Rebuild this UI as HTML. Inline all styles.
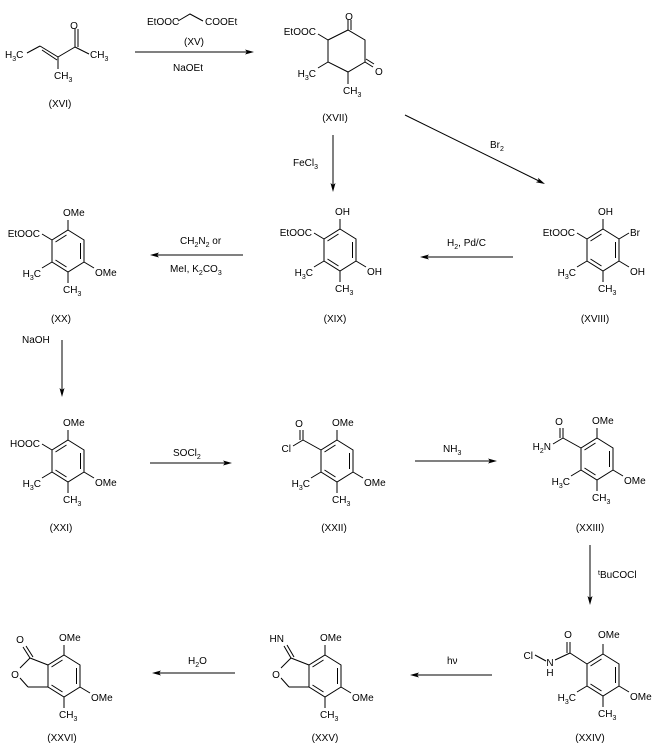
<!DOCTYPE html>
<html><head><meta charset="utf-8"><style>
html,body{margin:0;padding:0;background:#fff;}
svg{display:block;}
text{font-family:"Liberation Sans",Arial,sans-serif;font-size:10px;fill:#000;}
.s{font-size:7px;}
</style></head><body>
<svg width="660" height="745" viewBox="0 0 660 745" xmlns="http://www.w3.org/2000/svg">
<defs>
<g id="r" stroke="#000" stroke-width="1" fill="none">
<polygon points="0,-21 16,-11 16,11 0,21 -16,11 -16,-11"/>
<line x1="-12.5" y1="-9" x2="-1.5" y2="-16"/>
<line x1="12.5" y1="-8" x2="12.5" y2="8"/>
<line x1="-12.5" y1="9" x2="-1.5" y2="16"/>
</g>
<g id="bT" stroke="#000"><line x1="0" y1="-21" x2="0" y2="-31"/></g>
<g id="bB" stroke="#000"><line x1="0" y1="21" x2="0" y2="32"/></g>
<g id="bUL" stroke="#000"><line x1="-16" y1="-11" x2="-26" y2="-17"/></g>
<g id="bLL" stroke="#000"><line x1="-16" y1="11" x2="-26" y2="17"/></g>
<g id="bLR" stroke="#000"><line x1="16" y1="11" x2="26" y2="17"/></g>
<g id="bUR" stroke="#000"><line x1="16" y1="-11" x2="26" y2="-17"/></g>
<g id="std">
<use href="#r"/><use href="#bT"/><use href="#bB"/><use href="#bLL"/><use href="#bLR"/>
<text x="-5" y="42">CH<tspan class="s" dy="3">3</tspan></text>
<text x="-27" y="26" text-anchor="end">H<tspan class="s" dy="3">3</tspan><tspan dy="-3">C</tspan></text>
</g>
<g id="amide" stroke="#000" fill="none">
<line x1="-16" y1="-11" x2="-34" y2="-21"/>
<line x1="-34" y1="-21" x2="-34" y2="-31"/>
<line x1="-37" y1="-21" x2="-37" y2="-31"/>
</g>
<g id="lac" stroke="#000" fill="none">
<use href="#r"/><use href="#bT"/><use href="#bB"/><use href="#bLR"/>
<line x1="-16" y1="-11" x2="-34" y2="-18"/>
<line x1="-34" y1="-18" x2="-44" y2="-8"/>
<line x1="-44" y1="2" x2="-36" y2="11"/>
<line x1="-36" y1="11" x2="-16" y2="11"/>
</g>
<g id="ah"><polygon points="0,0 -9,-2.5 -7,0 -9,2.5" fill="#000"/></g>
</defs>

<!-- XVI -->
<g stroke="#000" fill="none">
<line x1="27" y1="53" x2="40" y2="46"/>
<line x1="40" y1="46" x2="58" y2="57"/>
<line x1="42" y1="50" x2="57" y2="60"/>
<line x1="58" y1="57" x2="75" y2="47"/>
<line x1="75" y1="47" x2="75" y2="29"/>
<line x1="78" y1="47" x2="78" y2="29"/>
<line x1="75" y1="47" x2="89" y2="54"/>
<line x1="58" y1="57" x2="58" y2="69"/>
</g>
<text x="74" y="29" text-anchor="middle">O</text>
<text x="5" y="58">H<tspan class="s" dy="3">3</tspan><tspan dy="-3">C</tspan></text>
<text x="90" y="58">CH<tspan class="s" dy="3">3</tspan></text>
<text x="54" y="79">CH<tspan class="s" dy="3">3</tspan></text>
<text x="60" y="107" text-anchor="middle">(XVI)</text>

<!-- arrow 1 -->
<line x1="135" y1="52" x2="250" y2="52" stroke="#000"/>
<use href="#ah" transform="translate(254,52)"/>
<text x="147" y="25">EtOOC</text>
<path d="M178,21 L190,14 L203,21" stroke="#000" fill="none"/>
<text x="205" y="25">COOEt</text>
<text x="194" y="45" text-anchor="middle">(XV)</text>
<text x="173" y="71">NaOEt</text>

<!-- XVII -->
<g stroke="#000" fill="none">
<polygon points="328,40 348,30 365,40 365,62 348,72 328,62"/>
<line x1="348" y1="30" x2="348" y2="20"/>
<line x1="351" y1="30" x2="351" y2="20"/>
<line x1="365" y1="62" x2="373" y2="67"/>
<line x1="366" y1="59" x2="374" y2="64"/>
<line x1="328" y1="40" x2="318" y2="34"/>
<line x1="328" y1="62" x2="318" y2="68"/>
<line x1="348" y1="72" x2="348" y2="84"/>
</g>
<text x="349" y="20" text-anchor="middle">O</text>
<text x="375" y="75">O</text>
<text x="316" y="35" text-anchor="end">EtOOC</text>
<text x="316" y="77" text-anchor="end">H<tspan class="s" dy="3">3</tspan><tspan dy="-3">C</tspan></text>
<text x="343" y="94">CH<tspan class="s" dy="3">3</tspan></text>
<text x="335" y="121" text-anchor="middle">(XVII)</text>

<!-- arrows row1->2 -->
<line x1="333" y1="135" x2="333" y2="188" stroke="#000"/>
<use href="#ah" transform="translate(333,192) rotate(90)"/>
<text x="293" y="166">FeCl<tspan class="s" dy="3">3</tspan></text>
<line x1="405" y1="115" x2="541" y2="182" stroke="#000"/>
<use href="#ah" transform="translate(545,184) rotate(26.2)"/>
<text x="490" y="148">Br<tspan class="s" dy="3">2</tspan></text>

<!-- XX -->
<g transform="translate(68,251)">
<use href="#std"/><use href="#bUL"/>
<text x="-5" y="-35">OMe</text>
<text x="27" y="25">OMe</text>
<text x="-28" y="-14" text-anchor="end">EtOOC</text>
<text x="-7" y="71" text-anchor="middle">(XX)</text>
</g>
<!-- XIX -->
<g transform="translate(340,250)">
<use href="#std"/><use href="#bUL"/>
<text x="-5" y="-35">OH</text>
<text x="27" y="25">OH</text>
<text x="-28" y="-14" text-anchor="end">EtOOC</text>
<text x="-5" y="72" text-anchor="middle">(XIX)</text>
</g>
<!-- XVIII -->
<g transform="translate(603,250)">
<use href="#std"/><use href="#bUL"/><use href="#bUR"/>
<text x="-5" y="-35">OH</text>
<text x="27" y="25">OH</text>
<text x="27" y="-14">Br</text>
<text x="-28" y="-14" text-anchor="end">EtOOC</text>
<text x="-8" y="72" text-anchor="middle">(XVIII)</text>
</g>

<!-- arrows row2 -->
<line x1="513" y1="257" x2="424" y2="257" stroke="#000"/>
<use href="#ah" transform="translate(420,257) rotate(180)"/>
<text x="447" y="246">H<tspan class="s" dy="3">2</tspan><tspan dy="-3">, Pd/C</tspan></text>
<line x1="243" y1="255" x2="154" y2="255" stroke="#000"/>
<use href="#ah" transform="translate(150,255) rotate(180)"/>
<text x="180" y="244">CH<tspan class="s" dy="3">2</tspan><tspan dy="-3">N</tspan><tspan class="s" dy="3">2</tspan><tspan dy="-3"> or</tspan></text>
<text x="170" y="272">MeI, K<tspan class="s" dy="3">2</tspan><tspan dy="-3">CO</tspan><tspan class="s" dy="3">3</tspan></text>
<line x1="62" y1="340" x2="62" y2="393" stroke="#000"/>
<use href="#ah" transform="translate(62,397) rotate(90)"/>
<text x="22" y="343">NaOH</text>

<!-- XXI -->
<g transform="translate(68,461)">
<use href="#std"/><use href="#bUL"/>
<text x="-5" y="-35">OMe</text>
<text x="27" y="25">OMe</text>
<text x="-28" y="-14" text-anchor="end">HOOC</text>
<text x="-7" y="70" text-anchor="middle">(XXI)</text>
</g>
<!-- XXII -->
<g transform="translate(337,461)">
<use href="#std"/><use href="#amide"/>
<line x1="-34" y1="-21" x2="-44" y2="-15" stroke="#000"/>
<text x="-5" y="-35">OMe</text>
<text x="27" y="25">OMe</text>
<text x="-38" y="-34" text-anchor="middle">O</text>
<text x="-46" y="-9" text-anchor="end">Cl</text>
<text x="-3" y="70" text-anchor="middle">(XXII)</text>
</g>
<!-- XXIII -->
<g transform="translate(597,459)">
<use href="#std"/><use href="#amide"/>
<line x1="-34" y1="-21" x2="-44" y2="-15" stroke="#000"/>
<text x="-5" y="-35">OMe</text>
<text x="27" y="25">OMe</text>
<text x="-38" y="-34" text-anchor="middle">O</text>
<text x="-46" y="-9" text-anchor="end">H<tspan class="s" dy="3">2</tspan><tspan dy="-3">N</tspan></text>
<text x="-7" y="72" text-anchor="middle">(XXIII)</text>
</g>

<!-- arrows row3 -->
<line x1="150" y1="463" x2="228" y2="463" stroke="#000"/>
<use href="#ah" transform="translate(232,463)"/>
<text x="173" y="456">SOCl<tspan class="s" dy="3">2</tspan></text>
<line x1="415" y1="461" x2="493" y2="461" stroke="#000"/>
<use href="#ah" transform="translate(497,461)"/>
<text x="443" y="452">NH<tspan class="s" dy="3">3</tspan></text>
<line x1="590" y1="545" x2="590" y2="601" stroke="#000"/>
<use href="#ah" transform="translate(590,605) rotate(90)"/>
<text x="598" y="578"><tspan class="s" dy="-3">t</tspan><tspan dy="3">BuCOCl</tspan></text>

<!-- XXIV -->
<g transform="translate(603,675)">
<use href="#std"/>
<g stroke="#000" fill="none">
<line x1="-16" y1="-11" x2="-33" y2="-22"/>
<line x1="-33" y1="-22" x2="-33" y2="-33"/>
<line x1="-36" y1="-22" x2="-36" y2="-33"/>
<line x1="-33" y1="-22" x2="-48" y2="-15"/>
<line x1="-68" y1="-20" x2="-57" y2="-14"/>
</g>
<text x="-5" y="-37">OMe</text>
<text x="27" y="25">OMe</text>
<text x="-35" y="-37" text-anchor="middle">O</text>
<text x="-53" y="-9" text-anchor="middle">N</text>
<text x="-53" y="1" text-anchor="middle">H</text>
<text x="-70" y="-16" text-anchor="end">Cl</text>
<text x="-13" y="66" text-anchor="middle">(XXIV)</text>
</g>

<!-- arrows row4 -->
<line x1="492" y1="675" x2="414" y2="675" stroke="#000"/>
<use href="#ah" transform="translate(410,675) rotate(180)"/>
<text x="447" y="664">hν</text>
<line x1="235" y1="673" x2="156" y2="673" stroke="#000"/>
<use href="#ah" transform="translate(152,673) rotate(180)"/>
<text x="188" y="664">H<tspan class="s" dy="3">2</tspan><tspan dy="-3">O</tspan></text>

<!-- XXV -->
<g transform="translate(325,676)">
<use href="#lac"/>
<g stroke="#000"><line x1="-34" y1="-18" x2="-41" y2="-30"/><line x1="-31" y1="-19" x2="-38" y2="-31"/></g>
<text x="-5" y="-35">OMe</text>
<text x="27" y="25">OMe</text>
<text x="-5" y="42">CH<tspan class="s" dy="3">3</tspan></text>
<text x="-49" y="2" text-anchor="middle">O</text>
<text x="-41" y="-34" text-anchor="end">HN</text>
<text x="0" y="65" text-anchor="middle">(XXV)</text>
</g>
<!-- XXVI -->
<g transform="translate(64,676)">
<use href="#lac"/>
<g stroke="#000"><line x1="-34" y1="-18" x2="-41" y2="-29"/><line x1="-31" y1="-19" x2="-38" y2="-30"/></g>
<text x="-5" y="-35">OMe</text>
<text x="27" y="25">OMe</text>
<text x="-5" y="42">CH<tspan class="s" dy="3">3</tspan></text>
<text x="-49" y="2" text-anchor="middle">O</text>
<text x="-44" y="-33" text-anchor="middle">O</text>
<text x="-2" y="65" text-anchor="middle">(XXVI)</text>
</g>
</svg>
</body></html>
